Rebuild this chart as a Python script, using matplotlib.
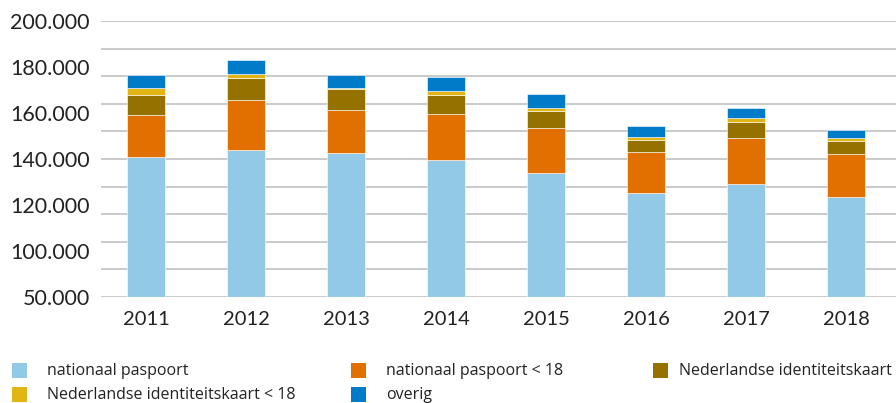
import numpy as np
import matplotlib
matplotlib.use("Agg")
from matplotlib import pyplot as plt
from matplotlib import patches

years = ["2011", "2012", "2013", "2014", "2015", "2016", "2017", "2018"]

nationaal_paspoort = [101700, 106750, 104350, 99500, 89850, 75350, 81650, 72450]
nationaal_paspoort_18 = [29950, 35750, 31150, 32900, 32850, 29500, 33550, 30950]
nl_idkaart = [14950, 15950, 15000, 14200, 11850, 9150, 11850, 9850]
nl_idkaart_18 = [4600, 3150, 1200, 2650, 2400, 1950, 2450, 2200]
overig = [9900, 9900, 8950, 10150, 10150, 7950, 7450, 5550]

series_names = ["nationaal paspoort", "nationaal paspoort < 18",
                "Nederlandse identiteitskaart", "Nederlandse identiteitskaart < 18",
                "overig"]
series_values = [nationaal_paspoort, nationaal_paspoort_18, nl_idkaart,
                 nl_idkaart_18, overig]
colors = ["#92C9E6", "#E17000", "#957200", "#E0B514", "#007BC7"]

# tick labels as printed on the y axis
ytick_labels = ["50.000", "100.000", "120.000", "140.000", "160.000",
                "180.000", "200.000"]

plt.rcParams['font.family'] = ['Lato', 'DejaVu Sans']

fig = plt.figure(figsize=(8.96, 4.03), dpi=100)
ax = fig.add_axes([0.1127, 0.263, 0.8873, 0.685])

x = np.arange(len(years))
bottom = np.zeros(len(years))
for vals, col in zip(series_values, colors):
    ax.bar(x, vals, width=0.38, bottom=bottom, color=col,
           edgecolor="#ffffff", linewidth=0.4, zorder=3)
    bottom += np.array(vals)

ax.set_xlim(-0.45, 7.5)
ax.set_ylim(0, 200000)

# grid lines every 20.000
for g in np.arange(0, 200001, 20000):
    ax.axhline(g, color="#C6C6C6", linewidth=1.3, zorder=1)

ax.set_yticks(np.linspace(0, 200000, len(ytick_labels)))
ax.set_yticklabels(ytick_labels, fontsize=15.5, color="#222222")
ax.set_xticks(x)
ax.set_xticklabels(years, fontsize=14.5, color="#222222")
ax.tick_params(axis="both", length=0)
ax.tick_params(axis="y", pad=8)
ax.tick_params(axis="x", pad=10)
for s in ax.spines.values():
    s.set_visible(False)

# legend, laid out by hand in two rows and three columns
leg_pos = [(12, 370), (351, 370), (653, 370), (12, 394), (351, 394)]
W, H = 896, 403
for (px, py), name, col in zip(leg_pos, series_names, colors):
    fig.patches.append(patches.Rectangle((px / W, (H - py - 7.5) / H), 15 / W, 15 / H,
                                         transform=fig.transFigure,
                                         facecolor=col, edgecolor="none"))
    fig.text((px + 35) / W if px < 600 else (px + 26) / W, (H - py - 1) / H, name,
             family=['Open Sans', 'DejaVu Sans'], fontsize=11.5,
             color="#222222", va="center", ha="left")

fig.savefig("out.png", dpi=100)
